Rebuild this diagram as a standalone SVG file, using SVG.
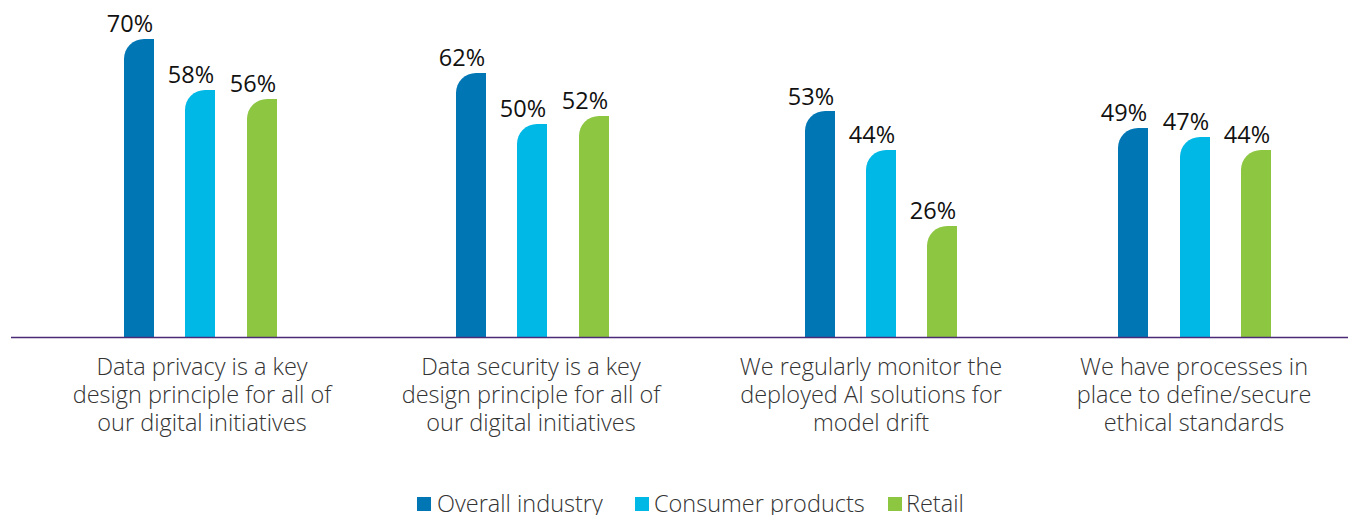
<svg xmlns="http://www.w3.org/2000/svg" width="1348" height="515" viewBox="0 0 1348 515">
<style>
.val{font-family:"Open Sans","Liberation Sans",sans-serif;font-size:23.5px;fill:#111;text-anchor:middle}
.cat{font-family:"Open Sans","Liberation Sans",sans-serif;font-weight:300;font-size:23.5px;fill:#333;text-anchor:middle}
.leg{font-family:"Open Sans","Liberation Sans",sans-serif;font-weight:300;font-size:23.5px;fill:#333}
.b1{fill:#0077b4}.b2{fill:#00b8e6}.b3{fill:#8dc641}
</style>
<rect width="1348" height="515" fill="#fff"/>
<g id="bars">
<path class="b1" d="M124,337V59a20,20 0 0 1 20,-20H154V337Z"/>
<path class="b2" d="M185,337V110a20,20 0 0 1 20,-20H215V337Z"/>
<path class="b3" d="M247,337V119a20,20 0 0 1 20,-20H277V337Z"/>
<path class="b1" d="M456,337V93a20,20 0 0 1 20,-20H486V337Z"/>
<path class="b2" d="M517,337V144a20,20 0 0 1 20,-20H547V337Z"/>
<path class="b3" d="M579,337V136a20,20 0 0 1 20,-20H609V337Z"/>
<path class="b1" d="M805,337V131a20,20 0 0 1 20,-20H835V337Z"/>
<path class="b2" d="M866,337V170a20,20 0 0 1 20,-20H896V337Z"/>
<path class="b3" d="M927,337V246a20,20 0 0 1 20,-20H957V337Z"/>
<path class="b1" d="M1118,337V148a20,20 0 0 1 20,-20H1148V337Z"/>
<path class="b2" d="M1180,337V157a20,20 0 0 1 20,-20H1210V337Z"/>
<path class="b3" d="M1241,337V170a20,20 0 0 1 20,-20H1271V337Z"/>
</g>
<g id="values">
<text class="val" x="130" y="32">70%</text>
<text class="val" x="191" y="83">58%</text>
<text class="val" x="253" y="92">56%</text>
<text class="val" x="462" y="66">62%</text>
<text class="val" x="523" y="117">50%</text>
<text class="val" x="585" y="109">52%</text>
<text class="val" x="811" y="105">53%</text>
<text class="val" x="872" y="143">44%</text>
<text class="val" x="933" y="219">26%</text>
<text class="val" x="1124" y="121">49%</text>
<text class="val" x="1186" y="130">47%</text>
<text class="val" x="1247" y="143">44%</text>
</g>
<g id="axis">
<line x1="11" y1="337.5" x2="1348" y2="337.5" stroke="#4b2a78" stroke-width="1.6"/>
</g>
<g id="cat1">
<text class="cat" x="202" y="375">Data privacy is a key</text>
<text class="cat" x="202" y="403">design principle for all of</text>
<text class="cat" x="202" y="431">our digital initiatives</text>
</g>
<g id="cat2">
<text class="cat" x="531" y="375">Data security is a key</text>
<text class="cat" x="531" y="403">design principle for all of</text>
<text class="cat" x="531" y="431">our digital initiatives</text>
</g>
<g id="cat3">
<text class="cat" x="871" y="375">We regularly monitor the</text>
<text class="cat" x="871" y="403">deployed AI solutions for</text>
<text class="cat" x="871" y="431">model drift</text>
</g>
<g id="cat4">
<text class="cat" x="1194" y="375">We have processes in</text>
<text class="cat" x="1194" y="403">place to define/secure</text>
<text class="cat" x="1194" y="431">ethical standards</text>
</g>
<g id="legend">
<rect class="b1" x="417" y="497" width="14" height="14"/>
<text class="leg" x="437" y="512">Overall industry</text>
<rect class="b2" x="635" y="497" width="14" height="14"/>
<text class="leg" x="654" y="512">Consumer products</text>
<rect class="b3" x="888" y="497" width="14" height="14"/>
<text class="leg" x="906" y="512">Retail</text>
</g>
</svg>
